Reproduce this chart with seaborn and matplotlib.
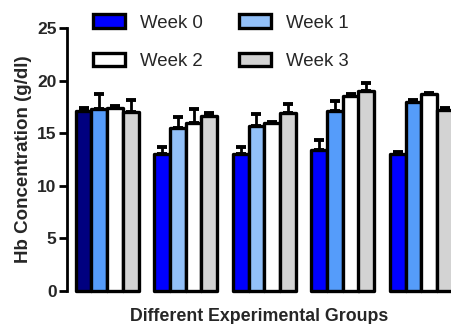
import numpy as np
import pandas as pd
import matplotlib
matplotlib.use("Agg")
import matplotlib.pyplot as plt
from matplotlib.patches import Patch
import seaborn as sns

# Hb concentration (g/dl) per experimental group and week
groups = ["G1", "G2", "G3", "G4", "G5"]
weeks = ["Week 0", "Week 1", "Week 2", "Week 3"]
week0 = [17.1, 13.0, 13.0, 13.4, 13.0]
week1 = [17.3, 15.5, 15.7, 17.1, 18.0]
week2 = [17.4, 16.0, 16.0, 18.5, 18.7]
week3 = [17.0, 16.6, 16.9, 19.0, 17.2]
err0 = [0.3, 0.7, 0.7, 1.0, 0.2]
err1 = [1.4, 1.0, 1.1, 1.0, 0.2]
err2 = [0.2, 1.3, 0.1, 0.2, 0.1]
err3 = [1.2, 0.3, 0.9, 0.8, 0.2]
yticks = [0, 5, 10, 15, 20, 25]

values = [week0, week1, week2, week3]
errors = [err0, err1, err2, err3]

df = pd.DataFrame({
    "Group": np.repeat(groups, len(weeks)),
    "Week": weeks * len(groups),
    "Hb": [values[w][g] for g in range(len(groups)) for w in range(len(weeks))],
})

# fill colours: rows = week, columns = group
NAVY, BLUE, MID, LIGHT, WHITE, GREY = "#000080", "#0000ff", "#559cfa", "#92c0f8", "#ffffff", "#d3d3d3"
fills = [
    [NAVY, BLUE, BLUE, BLUE, BLUE],
    [MID, LIGHT, LIGHT, MID, MID],
    [WHITE] * 5,
    [GREY] * 5,
]
legend_fills = [BLUE, LIGHT, WHITE, GREY]

sns.set_style("white")
plt.rcParams["font.family"] = ["Liberation Sans", "DejaVu Sans"]

fig = plt.figure(figsize=(4.52, 3.24), dpi=100)
ax = fig.add_axes([67 / 452, 1 - 291 / 324, 1 - 67 / 452, (291 - 28) / 324])

sns.barplot(data=df, x="Group", y="Hb", hue="Week", hue_order=weeks,
            palette=legend_fills, errorbar=None, width=0.8, legend=False,
            edgecolor="black", linewidth=2.4, ax=ax, zorder=3)

bar_containers = list(ax.containers)
for w, cont in enumerate(bar_containers):
    xs, tops = [], []
    for g, bar in enumerate(cont.patches):
        bar.set_facecolor(fills[w][g])
        bar.set_joinstyle("round")
        bar.set_clip_on(False)
        xs.append(bar.get_x() + bar.get_width() / 2)
        tops.append(bar.get_height())
    ax.errorbar(xs, tops, yerr=[np.zeros(len(xs)), errors[w]], fmt="none",
                ecolor="black", elinewidth=2.0, capsize=3.8, capthick=2.8,
                zorder=2, clip_on=False)

ax.set_xlim(-0.51, 4.39)
ax.set_ylim(0, 25)
ax.set_yticks(yticks)
ax.set_yticklabels([str(t) for t in yticks], fontsize=12.5, fontweight="bold")
ax.set_xticks([])
ax.tick_params(axis="y", left=True, length=5.5, width=2.0, pad=2, color="black")
for side in ["top", "right", "bottom"]:
    ax.spines[side].set_visible(False)
ax.spines["left"].set_linewidth(2.0)
ax.spines["left"].set_color("black")

ax.set_ylabel("Hb Concentration (g/dl)", fontsize=13.5, fontweight="bold", labelpad=4)
ax.set_xlabel("Different Experimental Groups", fontsize=12.8, fontweight="bold", labelpad=12.5)

handles = [Patch(facecolor=c, edgecolor="black", linewidth=2.4, joinstyle="round")
           for c in legend_fills]
order = [0, 2, 1, 3]
fig.legend([handles[i] for i in order], [weeks[i] for i in order], ncol=2,
           loc="upper left", bbox_to_anchor=(93 / 452, 1 - 14.5 / 324), frameon=False,
           fontsize=13.4, handlelength=1.72, handleheight=0.7, handletextpad=0.8,
           columnspacing=1.95, labelspacing=1.15, borderpad=0, borderaxespad=0)

fig.savefig("out.png", dpi=100)
